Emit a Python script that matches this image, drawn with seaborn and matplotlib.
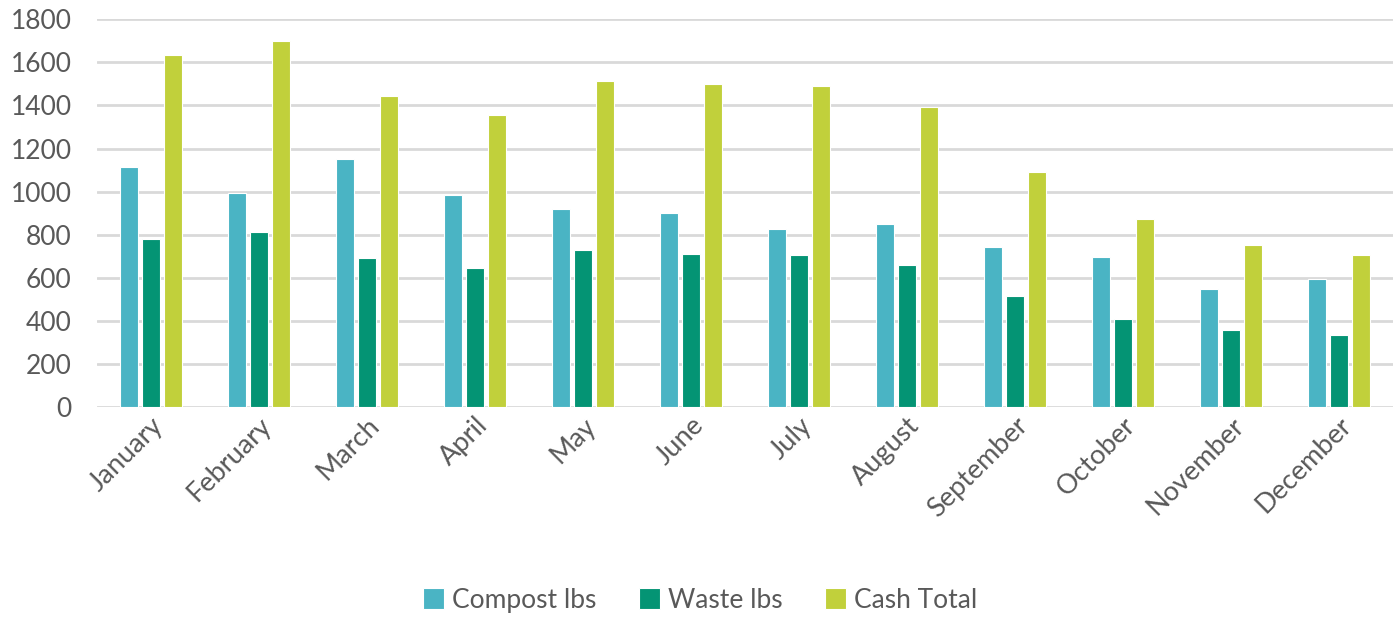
import matplotlib
matplotlib.use("Agg")
import matplotlib.pyplot as plt
import seaborn as sns
import pandas as pd

months = ["January", "February", "March", "April", "May", "June", "July",
          "August", "September", "October", "November", "December"]
compost = [1115, 995, 1150, 985, 918, 903, 825, 848, 743, 698, 547, 593]
waste = [780, 812, 691, 645, 730, 712, 705, 660, 518, 411, 358, 337]
cash = [1634, 1700, 1445, 1354, 1513, 1498, 1490, 1393, 1090, 872, 751, 705]
series = ["Compost lbs", "Waste lbs", "Cash Total"]
colors = ["#4AB4C4", "#049474", "#C1D03B"]

df = pd.DataFrame({"month": months * 3,
                   "value": compost + waste + cash,
                   "series": [s for s in series for _ in months]})

sns.set_style("white")
plt.rcParams["font.family"] = ["Lato", "DejaVu Sans"]

fig = plt.figure(figsize=(14, 6.18), dpi=100)
ax = fig.add_axes([0.069, 0.341, 0.926, 0.628])

sns.barplot(data=df, x="month", y="value", hue="series", order=months,
            hue_order=series, palette=colors, saturation=1, width=0.61, gap=0.18,
            edgecolor="white", linewidth=0.8, ax=ax, zorder=3)

ax.set_ylim(0, 1800)
ax.set_xlim(-0.5, 11.5)
ax.set_yticks(range(0, 1801, 200))
ax.yaxis.grid(True, color="#D9D9D9", linewidth=2, zorder=0)
ax.set_axisbelow(True)
for s in ax.spines.values():
    s.set_visible(False)
ax.set_xlabel("")
ax.set_ylabel("")
ax.tick_params(axis="y", length=0, pad=18, labelsize=19, labelcolor="#595959")
ax.tick_params(axis="x", length=0, pad=4, labelsize=19.5, labelcolor="#595959")
plt.setp(ax.get_xticklabels(), rotation=45, ha="right", rotation_mode="anchor")

handles, labels = ax.get_legend_handles_labels()
ax.legend_.remove()
fig.legend(handles, labels, loc="center", bbox_to_anchor=(0.5, 0.029), ncol=3,
           frameon=False, fontsize=19, labelcolor="#595959",
           handlelength=0.8, handleheight=0.8, handletextpad=0.3, columnspacing=1.6)

fig.savefig("out.png", dpi=100)
